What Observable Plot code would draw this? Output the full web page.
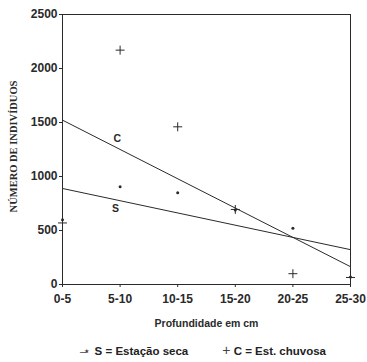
<!DOCTYPE html>
<html><head><meta charset="utf-8">
<script src="https://cdn.jsdelivr.net/npm/d3@7"></script>
<script src="https://cdn.jsdelivr.net/npm/@observablehq/plot@0.6"></script>
<style>
body{margin:0;background:#fff;font-family:"Liberation Sans",Arial,sans-serif;}
#legend{font:bold 11.5px "Liberation Sans",Arial,sans-serif;color:#222;margin-top:8px;padding-left:80px;white-space:nowrap}
#legend .m{font-weight:normal;color:#444}
</style></head>
<body><div id="chart"></div>
<div id="legend"><span class="m"><span style="letter-spacing:-3px">–</span>⋆</span> S = Estação seca<span class="m" style="margin-left:34px;font-size:14px">+</span> C = Est. chuvosa</div>
<script>
const depths = ["0-5","5-10","10-15","15-20","20-25","25-30"];
const seca = [600, 905, 850, 690, 520, 70];
const chuvosa = [570, 2170, 1460, 695, 100, 65];
const yTicks = [0, 500, 1000, 1500, 2000, 2500];
const lineLabels = ["C", "S"];
const labelX = [0.95, 0.92];
const labelY = [1350, 705];

const rows = depths.map((d, i) => ({i, d, S: seca[i], C: chuvosa[i]}));
const labs = lineLabels.map((t, k) => ({t, x: labelX[k], y: labelY[k]}));
const ink = "#2a2a2a";

const chart = Plot.plot({
  width: 367, height: 334,
  marginTop: 14, marginLeft: 62, marginRight: 17, marginBottom: 50,
  style: {fontFamily: "'Liberation Sans', Arial, sans-serif", color: ink, background: "#fff"},
  x: {domain: [0, 5], label: null},
  y: {domain: [0, 2500], label: null},
  marks: [
    Plot.frame({stroke: ink, strokeWidth: 1}),
    Plot.axisX({ticks: d3.range(depths.length), tickFormat: i => depths[i], tickSize: 3, tickPadding: 7, fontSize: 12, fontWeight: "bold", label: null}),
    Plot.axisY({ticks: yTicks, tickFormat: d => String(d), tickSize: 3, tickPadding: 2, fontSize: 12, fontWeight: "bold", label: null}),
    Plot.text(["Profundidade em cm"], {frameAnchor: "bottom", dy: 42, fontSize: 10.5, fontWeight: "bold", fill: ink}),
    Plot.text(["NÚMERO DE INDIVÍDUOS"], {frameAnchor: "left", textAnchor: "middle", dx: -49, dy: -3, rotate: -90, fontSize: 10.5, fontWeight: "bold", fontFamily: "'Liberation Serif', 'Times New Roman', serif", fill: ink}),
    Plot.linearRegressionY(rows, {x: "i", y: "C", ci: 0, stroke: ink, strokeWidth: 1}),
    Plot.linearRegressionY(rows, {x: "i", y: "S", ci: 0, stroke: ink, strokeWidth: 1}),
    Plot.dot(rows, {x: "i", y: "C", symbol: "plus", r: 3, stroke: ink, strokeWidth: 1}),
    Plot.dot(rows, {x: "i", y: "S", r: 1.5, fill: ink, stroke: "none"}),
    Plot.text(labs, {x: "x", y: "y", text: "t", fontSize: 10.5, fontWeight: "bold", fill: ink})
  ]
});
document.getElementById("chart").append(chart);
</script>
</body></html>
